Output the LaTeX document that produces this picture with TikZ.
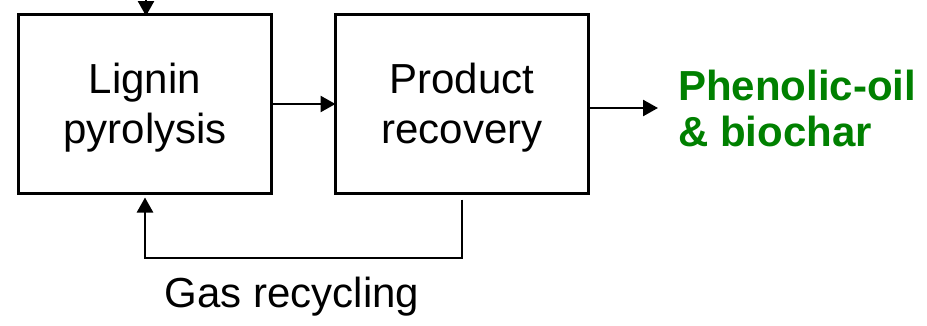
\documentclass[tikz,border=0pt]{standalone}
\usepackage{fontspec}
\setmainfont{Liberation Sans}
\usetikzlibrary{arrows.meta, positioning}

\definecolor{oilgreen}{RGB}{0,128,0}

\tikzset{
	stage/.style = {draw, line width = 3pt, inner sep = 0pt, outer sep = 0pt,
		minimum width = 253pt, minimum height = 179pt, align = center,
		text height = 88pt, font = \fontsize{42}{50}\selectfont},
	flow/.style = {->, line width = 2.5pt}
}

\begin{document}
\begin{tikzpicture}[x = 1pt, y = 1pt, > = {Triangle[length = 15pt, width = 16pt]}]

	\useasboundingbox (0, 0) rectangle (927, 325);

	% Process stages

	\node [stage] (lignin) at (145, 221) {Lignin\\pyrolysis};
	\node [stage, right = 64pt of lignin] (recovery) {Product\\recovery};

	% Products

	\node [anchor = west, inner xsep = 20pt, inner ysep = 0pt, align = left,
		text = oilgreen, font = \fontsize{42}{46}\selectfont\bfseries]
		(products) at (658, 217) {Phenolic-oil\\\& biochar};

	% Feed and forward flow

	\coordinate (feed) at (146, 325);
	\draw [flow, shorten >= -1.5pt] (feed) -- (feed |- lignin.north);
	\draw [flow] (lignin) -- (recovery);
	\draw [flow] (recovery.east |- products.west) -- (products.west);

	% Gas recycling loop

	\coordinate (loop) at (0, 67);
	\draw [flow, shorten <= 6pt, shorten >= 4pt]
		(recovery.south) -- (recovery.south |- loop) -| (lignin.south);
	\node [anchor = base, font = \fontsize{42}{49}\selectfont] (gas) at (292, 18)
		{Gas recycling};

\end{tikzpicture}
\end{document}
